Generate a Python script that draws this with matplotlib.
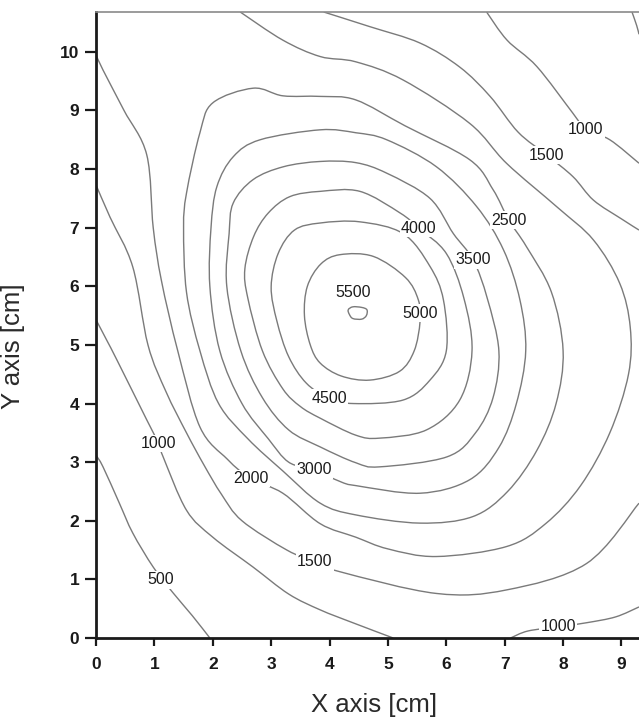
import matplotlib
matplotlib.use("Agg")
import matplotlib.pyplot as plt
from matplotlib.path import Path
from matplotlib.patches import PathPatch

# Iso-value lines (x, y in cm), one list of branches per level
levels = [500, 1000, 1500, 2000, 2500, 3000, 3500, 4000, 4500, 5000, 5500]

c500 = [
    [(0.00, 3.12), (0.12, 2.92), (0.40, 2.30), (0.63, 1.79), (0.98, 1.21),
     (1.32, 0.77), (1.65, 0.38), (1.95, 0.00)],
    [(9.18, 10.68), (9.26, 10.45), (9.30, 10.30)],
]
c1000 = [
    [(0.00, 5.43), (0.20, 5.05), (0.36, 4.74), (0.87, 3.72), (1.07, 3.32),
     (1.15, 3.09), (1.55, 2.18), (2.00, 1.72), (2.69, 1.21), (3.30, 0.75),
     (3.84, 0.48), (4.40, 0.26), (5.09, 0.00)],
    [(7.10, 0.00), (7.40, 0.12), (7.92, 0.19), (8.40, 0.26), (8.90, 0.36),
     (9.30, 0.53)],
    [(6.69, 10.68), (7.04, 10.20), (7.55, 9.75), (8.17, 8.95), (8.39, 8.67),
     (8.80, 8.50), (9.30, 8.10)],
]
c1500 = [
    [(3.90, 10.68), (4.69, 10.43), (5.55, 10.15), (6.23, 9.74), (6.75, 9.24),
     (7.23, 8.63), (7.72, 8.24), (8.17, 7.87), (8.52, 7.47), (9.00, 7.15),
     (9.30, 6.96)],
    [(9.30, 2.30), (8.40, 1.27), (7.03, 0.82), (5.83, 0.76), (4.18, 1.13),
     (3.75, 1.30), (3.27, 1.50), (2.50, 2.00), (2.15, 2.45), (1.85, 2.95),
     (1.55, 3.50), (1.20, 4.20), (0.89, 5.00), (0.63, 6.33), (0.24, 7.18),
     (0.00, 7.73)],
]
c2000 = [
    [(0.00, 9.95), (0.12, 9.69), (0.48, 9.00), (0.87, 8.24), (0.98, 7.00),
     (1.12, 6.10), (1.40, 4.90), (1.78, 3.60), (2.25, 3.05),
     (2.65, 2.72), (3.20, 2.47), (3.84, 1.95), (4.45, 1.72), (5.00, 1.52),
     (5.83, 1.39), (7.03, 1.56), (7.70, 1.95), (8.30, 2.60), (8.80, 3.50),
     (9.12, 4.50), (9.15, 5.30), (8.97, 6.05), (8.52, 6.79),
     (7.90, 7.35), (7.03, 8.10), (6.40, 8.78), (5.26, 9.52), (4.45, 9.83),
     (3.84, 9.92), (3.20, 10.20), (2.47, 10.68)],
]
c2500 = [
    [(2.00, 9.13), (2.69, 9.38), (3.20, 9.25), (3.84, 9.24), (4.45, 9.18),
     (5.29, 8.74), (6.40, 8.16), (6.80, 7.65), (7.07, 7.13), (7.37, 6.68),
     (7.80, 5.90), (8.00, 4.90), (7.88, 4.00), (7.55, 3.20),
     (7.05, 2.50), (6.45, 2.07), (5.55, 1.96), (4.45, 2.10), (3.84, 2.30),
     (3.20, 2.85), (2.60, 3.40), (2.10, 4.00), (1.78, 4.90),
     (1.55, 5.90), (1.50, 7.00), (1.55, 7.59), (1.78, 8.62), (2.00, 9.13)],
]
c3000 = [
    [(3.84, 8.67), (4.45, 8.62), (4.98, 8.50), (5.83, 8.04), (6.52, 7.36),
     (6.98, 6.62), (7.26, 5.77), (7.36, 4.90), (7.20, 4.00), (6.90, 3.25),
     (6.40, 2.70), (5.55, 2.47), (4.45, 2.60), (4.18, 2.67), (3.73, 2.87),
     (3.30, 3.00), (2.95, 3.40), (2.50, 4.00), (2.12, 4.90),
     (1.95, 6.00), (1.97, 7.00), (2.07, 7.70), (2.35, 8.21), (2.81, 8.50),
     (3.84, 8.67)],
]
c3500 = [
    [(3.84, 8.13), (4.45, 8.11), (4.98, 7.93), (5.72, 7.50), (6.12, 6.90),
     (6.46, 6.45), (6.70, 5.80), (6.90, 4.90), (6.80, 4.10), (6.50, 3.50),
     (6.01, 3.09), (4.86, 2.92), (4.45, 2.99),
     (3.84, 3.26), (3.30, 3.55), (2.85, 4.10), (2.48, 4.90),
     (2.24, 6.00), (2.28, 6.90), (2.35, 7.42), (2.69, 7.82), (3.21, 8.04),
     (3.84, 8.13)],
]
c4000 = [
    [(3.84, 7.62), (4.52, 7.62), (5.21, 7.25), (5.53, 6.99), (6.00, 6.56),
     (6.30, 5.80), (6.44, 4.90), (6.23, 4.06), (5.66, 3.55),
     (4.86, 3.41), (4.45, 3.46), (3.84, 3.75), (3.50, 3.95), (3.20, 4.25),
     (2.85, 4.90), (2.60, 5.80), (2.55, 6.30), (2.70, 6.85),
     (2.95, 7.25), (3.32, 7.53), (3.84, 7.62)],
]
c4500 = [
    [(3.84, 7.08), (4.52, 7.10), (5.26, 6.90), (5.72, 6.34), (5.95, 5.77),
     (6.00, 4.90), (5.72, 4.40), (5.26, 4.06), (4.41, 4.00),
     (3.99, 4.09), (3.60, 4.35), (3.30, 4.80), (3.10, 5.40),
     (3.00, 5.99), (3.12, 6.56), (3.40, 6.96), (3.84, 7.08)],
]
c5000 = [
    [(4.18, 6.54), (4.75, 6.51), (5.30, 6.15), (5.52, 5.77), (5.55, 5.40),
     (5.45, 4.90), (5.20, 4.55), (4.69, 4.40), (4.20, 4.47),
     (3.84, 4.69), (3.67, 5.00), (3.57, 5.50), (3.62, 6.00), (3.85, 6.38),
     (4.18, 6.54)],
]
c5500 = [
    [(4.32, 5.60), (4.40, 5.65), (4.55, 5.64), (4.64, 5.60), (4.63, 5.50),
     (4.55, 5.44), (4.40, 5.45), (4.34, 5.52), (4.32, 5.60)],
]

# Inline level labels: (level, x, y)
label_spots = [
    (500, 1.11, 0.99),
    (1000, 1.07, 3.32), (1000, 8.39, 8.67), (1000, 7.92, 0.19),
    (1500, 7.72, 8.24), (1500, 3.75, 1.30),
    (2000, 2.65, 2.72),
    (2500, 7.07, 7.13),
    (3000, 3.73, 2.87),
    (3500, 6.46, 6.45),
    (4000, 5.53, 6.99),
    (4500, 3.99, 4.09),
    (5000, 5.55, 5.54),
    (5500, 4.40, 5.90),
]

x_ticks = list(range(0, 10))
y_ticks = list(range(0, 11))

branches = [c500, c1000, c1500, c2000, c2500, c3000, c3500, c4000,
            c4500, c5000, c5500]


def smooth_path(pts):
    """Cubic Bezier path passing through every vertex (Catmull-Rom tangents)."""
    closed = len(pts) > 3 and pts[0] == pts[-1]
    P = pts[:-1] if closed else pts
    n = len(P)

    def at(i):
        if closed:
            return P[i % n]
        return P[min(max(i, 0), n - 1)]

    verts = [P[0]]
    codes = [Path.MOVETO]
    segs = n if closed else n - 1
    for i in range(segs):
        p0, p1, p2, p3 = at(i - 1), at(i), at(i + 1), at(i + 2)
        c1 = (p1[0] + (p2[0] - p0[0]) / 6.0, p1[1] + (p2[1] - p0[1]) / 6.0)
        c2 = (p2[0] - (p3[0] - p1[0]) / 6.0, p2[1] - (p3[1] - p1[1]) / 6.0)
        verts += [c1, c2, p2]
        codes += [Path.CURVE4] * 3
    return Path(verts, codes)


fig = plt.figure(figsize=(6.39, 7.19), dpi=100)
ax = fig.add_axes([96 / 639, 81 / 719, 543 / 639, 626 / 719])

line_color = "#7a7a7a"
for lev, group in zip(levels, branches):
    for br in group:
        ax.add_patch(PathPatch(smooth_path(br), fill=False, ec=line_color,
                               lw=1.0, zorder=2, joinstyle="round"))

for lev, lx, ly in label_spots:
    ax.text(lx, ly, f"{lev}", ha="center", va="center", fontsize=11.5,
            family="Liberation Sans", color="#1c1c1c", zorder=4,
            bbox=dict(boxstyle="square,pad=0.08", fc="white", ec="none"))

ax.set_xlim(0, 9.3)
ax.set_ylim(0, 10.68)
ax.set_xticks(x_ticks)
ax.set_yticks(y_ticks)

for lab in ax.get_xticklabels() + ax.get_yticklabels():
    lab.set_family("Liberation Sans")
    lab.set_fontweight("bold")
    lab.set_fontsize(12.5)
    lab.set_color("#1a1a1a")

ax.tick_params(axis="x", direction="out", length=6, width=1.6, pad=8,
               color="#1a1a1a")
ax.tick_params(axis="y", direction="out", length=8, width=1.6, pad=4,
               color="#1a1a1a")

ax.spines["right"].set_visible(False)
ax.spines["left"].set_linewidth(2.0)
ax.spines["bottom"].set_linewidth(2.0)
ax.spines["left"].set_color("#1a1a1a")
ax.spines["bottom"].set_color("#1a1a1a")
ax.spines["top"].set_linewidth(1.2)
ax.spines["top"].set_color("#8a8a8a")

ax.set_xlabel("X axis [cm]", fontsize=18.5, family="Liberation Sans",
              color="#2a2a2a")
ax.set_ylabel("Y axis [cm]", fontsize=18.5, family="Liberation Sans",
              color="#2a2a2a")
ax.xaxis.set_label_coords(0.512, -0.088)
ax.yaxis.set_label_coords(-0.131, 0.466)

fig.savefig("out.png", dpi=100, facecolor="white")
